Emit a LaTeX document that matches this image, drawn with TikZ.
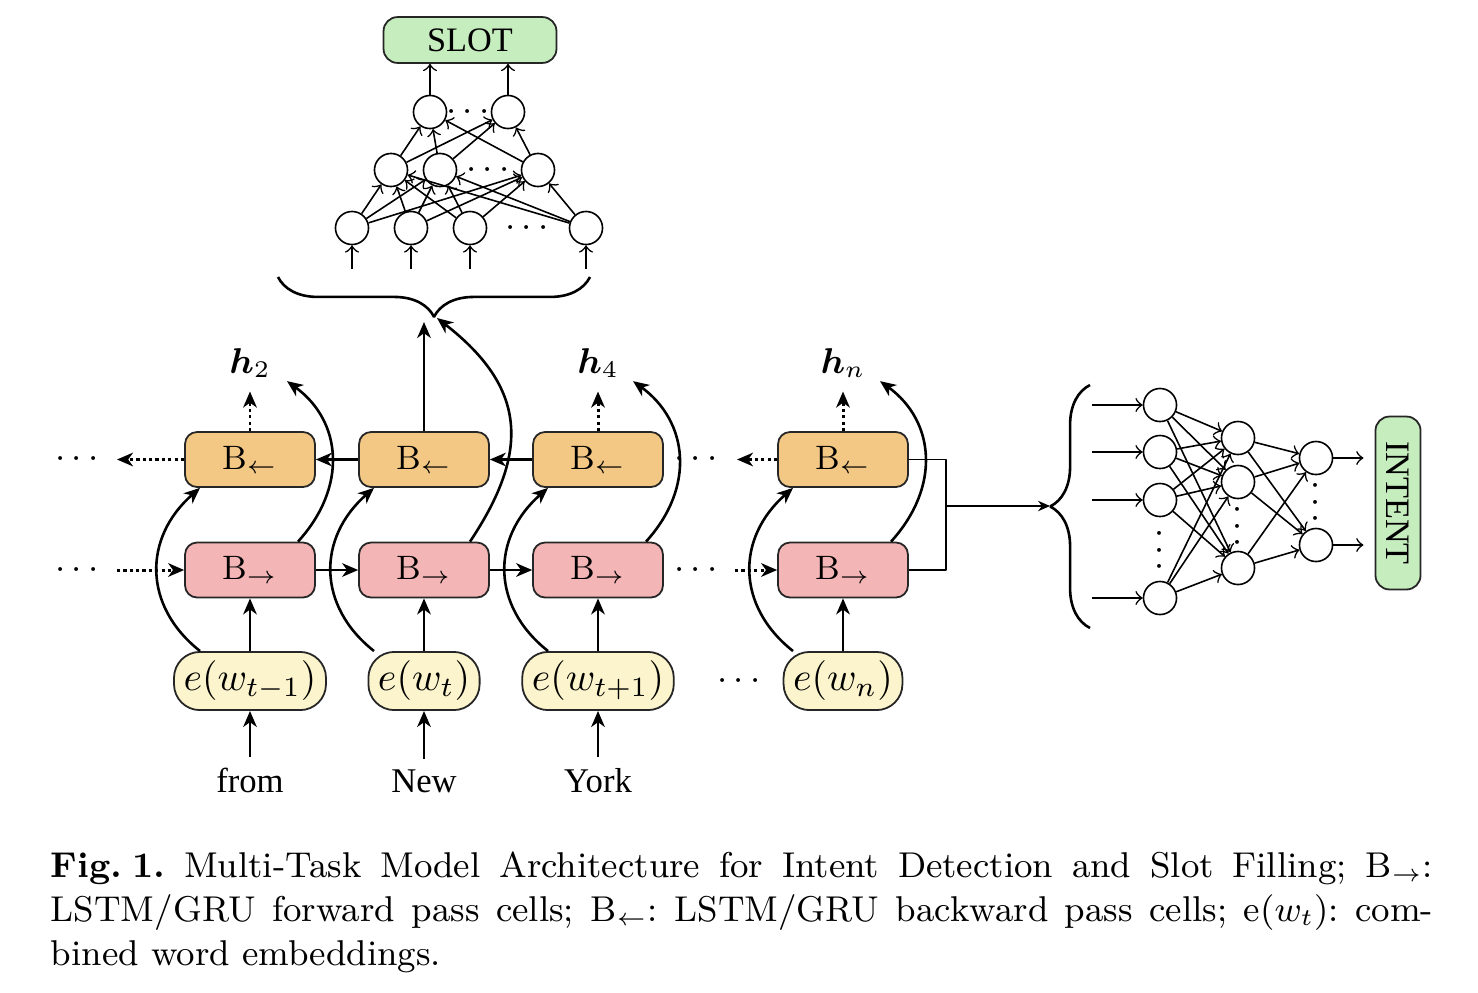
\documentclass[tikz,border=0pt]{standalone}
\usepackage{fontspec}
\usepackage{bm}
\usetikzlibrary{arrows.meta,calc,decorations.pathreplacing}
\newfontfamily\wordfont{Liberation Serif}
\definecolor{bwdcol}{RGB}{243,199,132}
\definecolor{fwdcol}{RGB}{243,181,181}
\definecolor{embcol}{RGB}{251,244,204}
\definecolor{outcol}{RGB}{198,237,190}
\begin{document}
\begin{tikzpicture}[x=0.251pt,y=0.251pt,>={Stealth[length=4pt,width=3.4pt,inset=1.2pt]},line join=bevel,
  cell/.style={draw=black!85,line width=0.45pt,rounded corners=3pt,minimum width=32.6pt,minimum height=13.8pt,inner sep=0pt,font=\fontsize{8.5}{10}\selectfont},
  bwdcell/.style={cell,fill=bwdcol},
  fwdcell/.style={cell,fill=fwdcol},
  embcell/.style={draw=black!85,line width=0.45pt,fill=embcol,rounded corners=6.5pt,minimum height=14.6pt,inner xsep=2.4pt,inner ysep=2pt,font=\fontsize{10}{12}\selectfont},
  outcell/.style={draw=black!85,line width=0.45pt,fill=outcol,rounded corners=3.5pt,inner sep=0pt,font=\wordfont\fontsize{8.6}{10}\selectfont},
  word/.style={font=\wordfont\fontsize{8.7}{10}\selectfont,inner sep=2.5pt,anchor=base},
  hlabel/.style={font=\fontsize{9}{10}\selectfont},
  neuron/.style={circle,draw,line width=0.4pt,minimum size=8.3pt,inner sep=0pt},
  gapdots/.style={font=\fontsize{9}{10}\selectfont,inner sep=0pt},
  link/.style={line width=0.4pt,-to},
  flow/.style={line width=0.65pt,->},
  dotline/.style={line width=0.75pt,dash pattern=on 0.8pt off 0.8pt},
]
\useasboundingbox (0,0) rectangle (1478,-992);
%%
  % Node: words
  \node[word] (w1) at (250,-792) {from};
  \node[word] (w2) at (424,-792) {New};
  \node[word] (w3) at (598,-792) {York};
  % Node: embeddings
  \node[embcell] (e1) at (250,-681) {$e(w_{t-1})$};
  \node[embcell] (e2) at (424,-681) {$e(w_t)$};
  \node[embcell] (e3) at (598,-681) {$e(w_{t+1})$};
  \node[embcell] (e4) at (843,-681) {$e(w_n)$};
  \node[gapdots] (edots) at (739,-681) {$\cdots$};
  % Node: forward cells
  \node[fwdcell] (f1) at (250,-570) {B$_\rightarrow$};
  \node[fwdcell] (f2) at (424,-570) {B$_\rightarrow$};
  \node[fwdcell] (f3) at (598,-570) {B$_\rightarrow$};
  \node[fwdcell] (f4) at (843,-570) {B$_\rightarrow$};
  % Node: backward cells
  \node[bwdcell] (b1) at (250,-459.5) {B$_\leftarrow$};
  \node[bwdcell] (b2) at (424,-459.5) {B$_\leftarrow$};
  \node[bwdcell] (b3) at (598,-459.5) {B$_\leftarrow$};
  \node[bwdcell] (b4) at (843,-459.5) {B$_\leftarrow$};
  % Node: row gaps
  \node[gapdots] (fdotsL) at (77,-570) {$\cdots$};
  \node[gapdots] (bdotsL) at (77,-459.5) {$\cdots$};
  \node[gapdots] (fdotsR) at (696,-570) {$\cdots$};
  \node[gapdots] (bdotsR) at (696,-459.5) {$\cdots$};
  \coordinate (fin) at (117,-570);
  \coordinate (bout) at (117,-459.5);
  \coordinate (fmid) at (735,-570);
  \coordinate (bmid) at (737,-459.5);
  % Node: hidden outputs
  \node[hlabel] (h2) at (250,-363) {$\bm{h}_2$};
  \node[hlabel] (h4) at (598,-363) {$\bm{h}_4$};
  \node[hlabel] (hn) at (843,-363) {$\bm{h}_n$};
  \coordinate (slotin) at (424,-322);
  \coordinate (slottip) at (437,-318);
  \coordinate (slotL) at (278,-277);
  \coordinate (slotR) at (590,-277);
  % Edge: words -> embeddings
  \draw[flow] (w1) -- (e1);
  \draw[flow] (w2) -- (e2);
  \draw[flow] (w3) -- (e3);
  % Edge: embeddings -> forward cells
  \draw[flow] (e1) -- (f1);
  \draw[flow] (e2) -- (f2);
  \draw[flow] (e3) -- (f3);
  \draw[flow] (e4) -- (f4);
  % Edge: embeddings -> backward cells
  \draw[flow] ($(e1.north)+(-50,0)$) .. controls +(-57,45) and +(-57,-50) .. ($(b1.south)+(-50,0)$);
  \draw[flow] ($(e2.north)+(-50,0)$) .. controls +(-57,45) and +(-57,-50) .. ($(b2.south)+(-50,0)$);
  \draw[flow] ($(e3.north)+(-50,0)$) .. controls +(-57,45) and +(-57,-50) .. ($(b3.south)+(-50,0)$);
  \draw[flow] ($(e4.north)+(-50,0)$) .. controls +(-57,45) and +(-57,-50) .. ($(b4.south)+(-50,0)$);
  % Edge: forward pass
  \draw[flow,dotline] (fin) -- (f1);
  \draw[flow] (f1) -- (f2);
  \draw[flow] (f2) -- (f3);
  \draw[flow,dotline] (fmid) -- (f4);
  % Edge: backward pass
  \draw[flow,dotline] (b1) -- (bout);
  \draw[flow] (b2) -- (b1);
  \draw[flow] (b3) -- (b2);
  \draw[flow,dotline] (b4) -- (bmid);
  % Edge: backward cells -> h
  \draw[flow,dotline] (b1) -- (h2);
  \draw[flow,dotline] (b3) -- (h4);
  \draw[flow,dotline] (b4) -- (hn);
  \draw[flow] (b2) -- (slotin);
  % Edge: forward cells -> h
  \draw[flow] ($(f1.north)+(48,0)$) .. controls +(50,55) and +(55,-40) .. ($(b1.north)+(37,50)$);
  \draw[flow] ($(f2.north)+(46,0)$) .. controls +(60,90) and +(90,-70) .. (slottip);
  \draw[flow] ($(f3.north)+(48,0)$) .. controls +(50,55) and +(55,-40) .. ($(b3.north)+(35,50)$);
  \draw[flow] ($(f4.north)+(48,0)$) .. controls +(50,55) and +(55,-40) .. ($(b4.north)+(37,50)$);
  % Edge: brace under slot network
  \draw[line width=0.65pt,decorate,decoration={brace,amplitude=10pt}] (slotR) -- (slotL);
%%
  % Node: slot network
  \node[outcell,minimum width=43.4pt,minimum height=11.5pt] (slot) at (470,-40) {SLOT};
  \node[neuron] (s1) at (352,-228) {};
  \node[neuron] (s2) at (411,-228) {};
  \node[neuron] (s3) at (470,-228) {};
  \node[neuron] (s4) at (586,-228) {};
  \node[neuron] (m1) at (391,-170) {};
  \node[neuron] (m2) at (440,-170) {};
  \node[neuron] (m3) at (538,-170) {};
  \node[neuron] (t1) at (430,-112) {};
  \node[neuron] (t2) at (508,-112) {};
  \node[gapdots] at (527,-228) {$\cdots$};
  \node[gapdots] at (488,-170) {$\cdots$};
  \node[gapdots] at (468,-112) {$\cdots$};
  % Edge: inputs -> slot network
  \draw[link] ([yshift=-6pt]s1.south) -- (s1);
  \draw[link] ([yshift=-6pt]s2.south) -- (s2);
  \draw[link] ([yshift=-6pt]s3.south) -- (s3);
  \draw[link] ([yshift=-6pt]s4.south) -- (s4);
  % Edge: first layer -> second layer
  \draw[link] (s1) -- (m1); \draw[link] (s1) -- (m2); \draw[link] (s1) -- (m3);
  \draw[link] (s2) -- (m1); \draw[link] (s2) -- (m2); \draw[link] (s2) -- (m3);
  \draw[link] (s3) -- (m1); \draw[link] (s3) -- (m2); \draw[link] (s3) -- (m3);
  \draw[link] (s4) -- (m1); \draw[link] (s4) -- (m2); \draw[link] (s4) -- (m3);
  % Edge: second layer -> top layer
  \draw[link] (m1) -- (t1); \draw[link] (m1) -- (t2);
  \draw[link] (m2) -- (t1); \draw[link] (m2) -- (t2);
  \draw[link] (m3) -- (t1); \draw[link] (m3) -- (t2);
  % Edge: top layer -> SLOT
  \draw[link] (t1) -- (t1 |- slot.south);
  \draw[link] (t2) -- (t2 |- slot.south);
%%
  % Node: intent network
  \coordinate (join) at (946,-506);
  \coordinate (itip) at (1050,-506);
  \coordinate (ibot) at (1090,-628);
  \coordinate (itop) at (1090,-385);
  \node[neuron] (i1) at (1160,-405) {};
  \node[neuron] (i2) at (1160,-452) {};
  \node[neuron] (i3) at (1160,-500) {};
  \node[neuron] (i4) at (1160,-598) {};
  \node[neuron] (j1) at (1238,-438) {};
  \node[neuron] (j2) at (1238,-482) {};
  \node[neuron] (j3) at (1238,-568) {};
  \node[neuron] (o1) at (1316,-458) {};
  \node[neuron] (o2) at (1316,-545) {};
  \node[gapdots,rotate=90] at (1160,-550) {$\cdots$};
  \node[gapdots,rotate=90] at (1238,-526) {$\cdots$};
  \node[gapdots,rotate=90] at (1316,-502) {$\cdots$};
  \node[outcell,rotate=-90,minimum width=43.4pt,minimum height=11.3pt] (intent) at (1398,-503) {INTENT};
  % Edge: last cells -> intent network
  \draw[line width=0.45pt] (b4.east) -| (join) |- (f4.east);
  \draw[line width=0.45pt,-{Stealth[length=3pt,width=2.6pt]}] (join) -- (itip);
  \draw[line width=0.65pt,decorate,decoration={brace,amplitude=10pt}] (ibot) -- (itop);
  % Edge: inputs -> intent network
  \draw[link] ([xshift=-12.7pt]i1.west) -- (i1);
  \draw[link] ([xshift=-12.7pt]i2.west) -- (i2);
  \draw[link] ([xshift=-12.7pt]i3.west) -- (i3);
  \draw[link] ([xshift=-12.7pt]i4.west) -- (i4);
  % Edge: input layer -> hidden layer
  \draw[link] (i1) -- (j1); \draw[link] (i1) -- (j2); \draw[link] (i1) -- (j3);
  \draw[link] (i2) -- (j1); \draw[link] (i2) -- (j2); \draw[link] (i2) -- (j3);
  \draw[link] (i3) -- (j1); \draw[link] (i3) -- (j2); \draw[link] (i3) -- (j3);
  \draw[link] (i4) -- (j1); \draw[link] (i4) -- (j2); \draw[link] (i4) -- (j3);
  % Edge: hidden layer -> output layer
  \draw[link] (j1) -- (o1); \draw[link] (j1) -- (o2);
  \draw[link] (j2) -- (o1); \draw[link] (j2) -- (o2);
  \draw[link] (j3) -- (o1); \draw[link] (j3) -- (o2);
  % Edge: output layer -> INTENT
  \draw[link] (o1) -- ([xshift=-2.8pt]o1 -| intent.south);
  \draw[link] (o2) -- ([xshift=-2.8pt]o2 -| intent.south);
%%
  % Node: caption
  \node[anchor=north west,text width=347pt,align=justify,inner sep=0pt,font=\fontsize{9}{11}\selectfont\frenchspacing] (caption) at (50,-851.5)
    {\textbf{Fig.\kern2.5pt1.} Multi-Task Model Architecture for Intent Detection and Slot Filling; B$_\rightarrow$:\linebreak
     LSTM/GRU forward pass cells; B$_\leftarrow$: LSTM/GRU backward pass cells; e($w_t$): com-\linebreak
     bined word embeddings.};
%
\end{tikzpicture}
\end{document}
